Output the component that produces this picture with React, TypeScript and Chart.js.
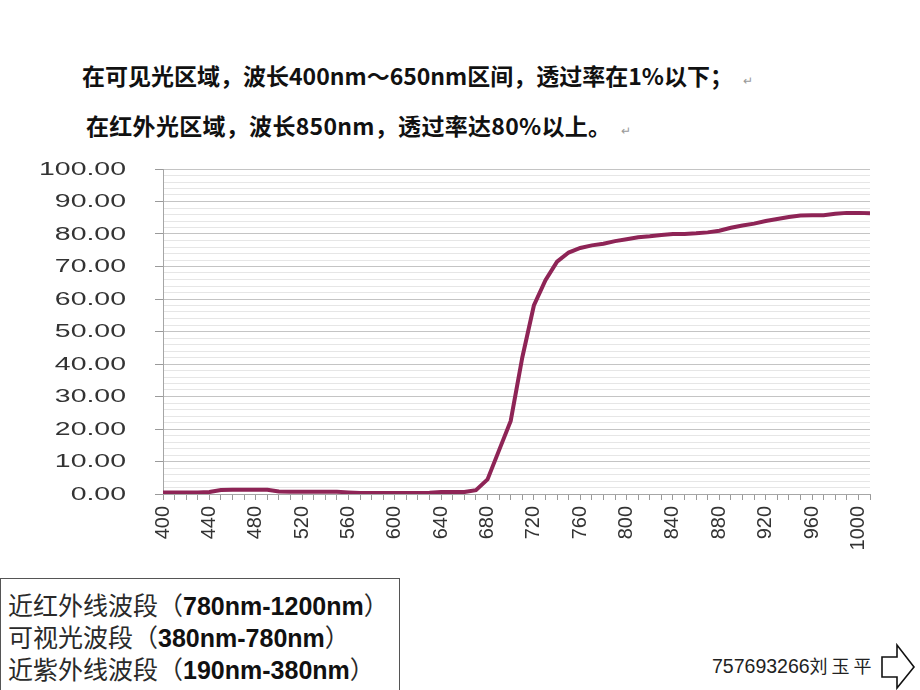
import React, { useEffect, useRef } from 'react';
import { Chart, registerables } from 'chart.js';

Chart.register(...registerables);

const wavelengths = [
  400, 410, 420, 430, 440, 450, 460, 470, 480, 490, 500, 510, 520, 530, 540, 550,
  560, 570, 580, 590, 600, 610, 620, 630, 640, 650, 660, 670, 680, 690, 700, 710,
  720, 730, 740, 750, 760, 770, 780, 790, 800, 810, 820, 830, 840, 850, 860, 870,
  880, 890, 900, 910, 920, 930, 940, 950, 960, 970, 980, 990, 1000, 1010,
];

const transmittance = [
  0.5, 0.5, 0.5, 0.5, 0.6, 1.2, 1.3, 1.3, 1.3, 1.3, 0.8, 0.7, 0.7, 0.7, 0.7, 0.7,
  0.5, 0.3, 0.3, 0.3, 0.3, 0.3, 0.3, 0.4, 0.6, 0.6, 0.6, 1.2, 4.5, 13.5, 22.5, 42.0,
  58.0, 65.8, 71.5, 74.3, 75.7, 76.5, 77.0, 77.8, 78.4, 79.0, 79.3, 79.7, 80.0, 80.0, 80.2, 80.5,
  81.0, 81.9, 82.6, 83.2, 84.0, 84.6, 85.2, 85.7, 85.8, 85.8, 86.2, 86.5, 86.5, 86.4,
];

const xLabelValues = [400, 440, 480, 520, 560, 600, 640, 680, 720, 760, 800, 840, 880, 920, 960, 1000];
const yLabelValues = [0, 10, 20, 30, 40, 50, 60, 70, 80, 90, 100];

const titleLine1 = '在可见光区域，波长400nm～650nm区间，透过率在1%以下；';
const titleLine2 = '在红外光区域，波长850nm，透过率达80%以上。';
const bandNames = ['近红外线波段', '可视光波段', '近紫外线波段'];
const bandRanges = ['780nm-1200nm', '380nm-780nm', '190nm-380nm'];
const footerNumber = '757693266';
const footerName = '刘玉平';

const yLabelPlugin = {
  id: 'wideYLabels',
  afterDraw(chart: any) {
    const scale = chart.scales.y;
    const ctx = chart.ctx;
    ctx.save();
    ctx.font = '18px "Liberation Sans", Arial, sans-serif';
    ctx.fillStyle = '#333333';
    ctx.textAlign = 'right';
    ctx.textBaseline = 'middle';
    for (const v of yLabelValues) {
      const y = scale.getPixelForValue(v);
      ctx.save();
      ctx.translate(chart.chartArea.left - 37, y + 1);
      ctx.scale(1.58, 1);
      ctx.fillText(v.toFixed(2), 0, 0);
      ctx.restore();
    }
    ctx.restore();
  },
};

function TransmittanceChart() {
  const ref = useRef<HTMLCanvasElement | null>(null);
  useEffect(() => {
    if (!ref.current) return;
    const chart = new Chart(ref.current, {
      type: 'line',
      data: {
        datasets: [
          {
            data: wavelengths.map((x, i) => ({ x, y: transmittance[i] })),
            borderColor: '#8e2456',
            borderWidth: 4,
            pointRadius: 0,
            tension: 0,
            fill: false,
          },
        ],
      },
      options: {
        animation: false,
        responsive: false,
        layout: { padding: { top: 19, right: 26, left: 0, bottom: 0 } },
        plugins: { legend: { display: false }, tooltip: { enabled: false } },
        scales: {
          x: {
            type: 'linear',
            min: 400,
            max: 1010,
            afterFit: (s: any) => {
              s.height = 66;
            },
            ticks: {
              stepSize: 10,
              autoSkip: false,
              minRotation: 90,
              maxRotation: 90,
              padding: 6,
              color: '#333333',
              font: { family: '"Liberation Sans", Arial, sans-serif', size: 20 },
              callback: (v: any) => (xLabelValues.includes(Number(v)) ? String(v) : ''),
            },
            grid: {
              drawOnChartArea: false,
              drawTicks: true,
              tickLength: 6,
              color: '#9a9a9a',
            },
            border: { color: '#a6a6a6', width: 1 },
          },
          y: {
            min: 0,
            max: 100,
            afterFit: (s: any) => {
              s.width = 163;
            },
            ticks: { stepSize: 2, display: false },
            grid: {
              color: (c: any) => (c.tick && c.tick.value % 10 === 0 ? '#c4c4c4' : '#e6e6e6'),
              tickColor: (c: any) => (c.tick && c.tick.value % 10 === 0 ? '#9a9a9a' : 'rgba(0,0,0,0)'),
              drawTicks: true,
              tickLength: 8,
              lineWidth: 1,
            },
            border: { color: '#a6a6a6', width: 1 },
          },
        },
      },
      plugins: [yLabelPlugin],
    });
    return () => chart.destroy();
  }, []);
  return <canvas ref={ref} width={900} height={410} style={{ width: 900, height: 410, display: 'block' }} />;
}

export default function App() {
  const cjk = '"Noto Sans CJK SC", "Noto Sans", sans-serif';
  return (
    <div
      style={{
        position: 'absolute',
        left: 0,
        top: 0,
        width: 920,
        height: 690,
        overflow: 'hidden',
        background: '#ffffff',
      }}
    >
      <div
        style={{
          position: 'absolute',
          left: 82,
          top: 61,
          fontFamily: cjk,
          fontWeight: 700,
          fontSize: 23,
          lineHeight: '28px',
          whiteSpace: 'nowrap',
          color: '#111',
        }}
      >
        {titleLine1}
        <span style={{ fontSize: 12, fontWeight: 400, color: '#999', marginLeft: 10 }}>↵</span>
      </div>
      <div
        style={{
          position: 'absolute',
          left: 86,
          top: 111,
          fontFamily: cjk,
          fontWeight: 700,
          fontSize: 23,
          lineHeight: '28px',
          whiteSpace: 'nowrap',
          color: '#111',
          letterSpacing: 0.3,
        }}
      >
        {titleLine2}
        <span style={{ fontSize: 12, fontWeight: 400, color: '#999', marginLeft: 10 }}>↵</span>
      </div>

      <div style={{ position: 'absolute', left: 0, top: 150, width: 900, height: 410 }}>
        <TransmittanceChart />
      </div>

      <div
        style={{
          position: 'absolute',
          left: 0,
          top: 578,
          width: 400,
          height: 130,
          border: '1px solid #555',
          boxSizing: 'border-box',
        }}
      />
      {bandNames.map((name, i) => (
        <div
          key={name}
          style={{
            position: 'absolute',
            left: 8,
            top: 588 + i * 32,
            height: 32,
            lineHeight: '32px',
            fontSize: 25,
            whiteSpace: 'nowrap',
            color: '#2a2a2a',
            fontFamily: cjk,
          }}
        >
          {name}（
          <span style={{ fontFamily: '"Liberation Sans", Arial, sans-serif', fontWeight: 700, color: '#111' }}>
            {bandRanges[i]}
          </span>
          ）
        </div>
      ))}

      <div
        style={{
          position: 'absolute',
          left: 712,
          top: 652,
          lineHeight: '26px',
          whiteSpace: 'nowrap',
          color: '#222',
        }}
      >
        <span style={{ fontFamily: '"Liberation Sans", Arial, sans-serif', fontSize: 19.5 }}>{footerNumber}</span>
        <span style={{ fontFamily: cjk, fontSize: 18, letterSpacing: 4 }}>{footerName}</span>
      </div>
      <svg style={{ position: 'absolute', left: 878, top: 642, width: 40, height: 48 }} width={40} height={48}>
        <polygon
          points="4,15 19,15 19,3 36,25 19,46 19,35 4,35"
          fill="#fff"
          stroke="#111"
          strokeWidth={1.6}
        />
      </svg>
    </div>
  );
}
